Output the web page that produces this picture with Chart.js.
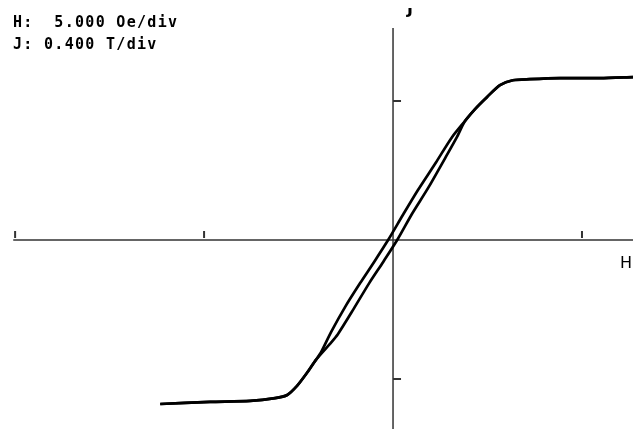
<!DOCTYPE html>
<html>
<head>
<meta charset="utf-8">
<title>Hysteresis loop</title>
<script src="https://cdn.jsdelivr.net/npm/chart.js@4.4.1/dist/chart.umd.min.js"></script>
<style>
    html, body { margin: 0; padding: 0; background: #fff; }
    #wrap { width: 633px; height: 429px; }
</style>
</head>
<body>
<div id="wrap"><canvas id="loop" width="633" height="429"></canvas></div>
<script>
// H in Oe, J in T
const satUpperH = [6.35, 5.48, 4.42, 3.62, 3.17, 2.83, 2.49, 2.17, 1.90];
const satUpperJ = [0.469, 0.466, 0.466, 0.463, 0.460, 0.446, 0.412, 0.377, 0.342];

const descH = [1.56, 1.14, 0.66, 0.26, -0.13, -0.50, -0.87, -1.27, -1.64, -1.90];
const descJ = [0.296, 0.224, 0.144, 0.072, 0.000, -0.063, -0.124, -0.193, -0.265, -0.322];

const ascH = [1.69, 1.38, 0.93, 0.50, 0.11, -0.26, -0.63, -1.03, -1.46, -1.67];
const ascJ = [0.296, 0.236, 0.150, 0.075, 0.000, -0.063, -0.124, -0.196, -0.271, -0.299];

const satLowerH = [-2.04, -2.28, -2.54, -2.80, -3.12, -3.78, -4.84, -6.16];
const satLowerJ = [-0.345, -0.383, -0.420, -0.446, -0.455, -0.463, -0.466, -0.472];

const hTicks = [-10, -5, 5];
const jTicks = [-0.4, 0.4];
const infoLines = ['H:  5.000 Oe/div', 'J: 0.400 T/div'];

function toPoints(hs, js) {
    return hs.map((h, i) => ({ x: h, y: js[i] }));
}

// descending branch: +sat -> left branch -> -sat
const descending = toPoints(satUpperH, satUpperJ)
    .concat(toPoints(descH, descJ))
    .concat(toPoints(satLowerH, satLowerJ));

// ascending branch: -sat -> right branch -> +sat
const ascending = toPoints(satLowerH, satLowerJ).reverse()
    .concat(toPoints(ascH, ascJ).reverse())
    .concat(toPoints(satUpperH, satUpperJ).reverse());

const lineStyle = {
    borderColor: '#000',
    backgroundColor: '#000',
    borderWidth: 2.7,
    pointRadius: 0,
    tension: 0.25,
    fill: false,
    showLine: true
};

const axesPlugin = {
    id: 'axes',
    beforeDatasetsDraw(chart) {
        const { ctx, scales: { x, y } } = chart;
        const x0 = x.getPixelForValue(0);
        const y0 = y.getPixelForValue(0);
        ctx.save();
        ctx.strokeStyle = '#333';
        ctx.lineWidth = 1.5;
        ctx.beginPath();
        ctx.moveTo(x.getPixelForValue(-10.05), y0);
        ctx.lineTo(chart.width, y0);
        ctx.moveTo(x0, 28);
        ctx.lineTo(x0, chart.height);
        ctx.stroke();

        ctx.lineWidth = 2;
        ctx.beginPath();
        hTicks.forEach(h => {
            const px = x.getPixelForValue(h);
            ctx.moveTo(px, y0 - 2);
            ctx.lineTo(px, y0 - 9);
        });
        jTicks.forEach(j => {
            const py = y.getPixelForValue(j);
            ctx.moveTo(x0, py);
            ctx.lineTo(x0 + 8, py);
        });
        ctx.stroke();
        ctx.restore();
    },
    afterDraw(chart) {
        const { ctx, scales: { x } } = chart;
        ctx.save();
        ctx.fillStyle = '#000';
        ctx.font = 'bold 15px "DejaVu Sans Mono", monospace';
        ctx.letterSpacing = '1.3px';
        ctx.textBaseline = 'alphabetic';
        ctx.fillText(infoLines[0], 13, 27);
        ctx.fillText(infoLines[1], 13, 49);
        ctx.letterSpacing = '0px';

        ctx.font = '16px "DejaVu Sans", sans-serif';
        ctx.fillText('H', 620, 268);

        // axis label J, cut off by the top of the scan
        ctx.beginPath();
        ctx.rect(0, 8, chart.width, 20);
        ctx.clip();
        ctx.font = 'bold 16px "DejaVu Sans", sans-serif';
        ctx.fillText('J', x.getPixelForValue(0) + 14, 14);
        ctx.restore();
    }
};

new Chart(document.getElementById('loop'), {
    type: 'scatter',
    data: {
        datasets: [
            Object.assign({ label: 'descending', data: descending }, lineStyle),
            Object.assign({ label: 'ascending', data: ascending }, lineStyle)
        ]
    },
    options: {
        responsive: false,
        animation: false,
        layout: { padding: 0 },
        scales: {
            x: { type: 'linear', min: -10.4, max: 6.35, display: false },
            y: { type: 'linear', min: -0.544, max: 0.691, display: false }
        },
        plugins: {
            legend: { display: false },
            tooltip: { enabled: false }
        }
    },
    plugins: [axesPlugin]
});
</script>
</body>
</html>
